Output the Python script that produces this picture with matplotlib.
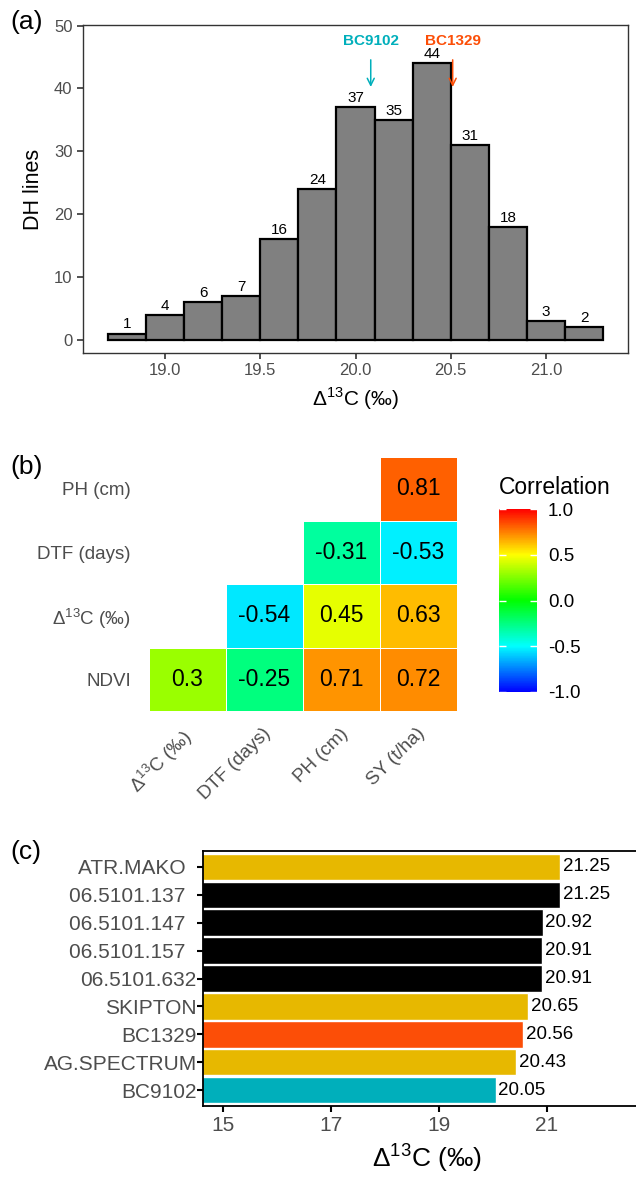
import matplotlib
matplotlib.use('Agg')
import matplotlib.pyplot as plt
import numpy as np
from matplotlib.colors import LinearSegmentedColormap, Normalize
from matplotlib.cm import ScalarMappable
from matplotlib.transforms import ScaledTranslation

plt.rcParams['font.family'] = ['Liberation Sans', 'DejaVu Sans']
plt.rcParams['mathtext.fontset'] = 'custom'
plt.rcParams['mathtext.rm'] = 'Liberation Sans'

D13C = 'Δ$^{\\mathregular{13}}$C (‰)'

# (a) distribution of carbon isotope discrimination among DH lines
bin_edges = [18.7, 18.9, 19.1, 19.3, 19.5, 19.7, 19.9, 20.1, 20.3, 20.5, 20.7, 20.9, 21.1, 21.3]
bin_counts = [1, 4, 6, 7, 16, 24, 37, 35, 44, 31, 18, 3, 2]
parent_names = ['BC9102', 'BC1329']
parent_pos = [20.08, 20.51]
parent_colors = ['#00AFBB', '#FC4E07']

# (b) trait correlations, rows bottom to top
traits_x = [D13C, 'DTF (days)', 'PH (cm)', 'SY (t/ha)']
traits_y = ['NDVI', D13C, 'DTF (days)', 'PH (cm)']
corr_vals = [[0.3, -0.25, 0.71, 0.72],
             [np.nan, -0.54, 0.45, 0.63],
             [np.nan, np.nan, -0.31, -0.53],
             [np.nan, np.nan, np.nan, 0.81]]

# (c) top lines and checks
line_names = ['ATR.MAKO  ', '06.5101.137  ', '06.5101.147  ', '06.5101.157  ',
              '06.5101.632', 'SKIPTON', 'BC1329', 'AG.SPECTRUM', 'BC9102']
line_d13c = [21.25, 21.25, 20.92, 20.91, 20.91, 20.65, 20.56, 20.43, 20.05]
line_group = ['check', 'dh', 'dh', 'dh', 'dh', 'check', 'BC1329', 'check', 'BC9102']
group_colors = {'check': '#E7B800', 'dh': '#000000', 'BC1329': '#FC4E07', 'BC9102': '#00AFBB'}

W, H = 636, 1177
fig = plt.figure(figsize=(W / 100, H / 100), dpi=100)


def box(l, t, r, b):
    return [l / W, 1 - b / H, (r - l) / W, (b - t) / H]


# ---- panel a ----
ax = fig.add_axes(box(83, 25, 628, 353))
ax.bar(bin_edges[:-1], bin_counts, width=np.diff(bin_edges), align='edge',
       color='#808080', edgecolor='black', linewidth=1.6, zorder=2)
for x0, x1, c in zip(bin_edges[:-1], bin_edges[1:], bin_counts):
    ax.annotate(str(c), ((x0 + x1) / 2, c), xytext=(0, 1.5), textcoords='offset points',
                ha='center', va='bottom', fontsize=11)
for name, xp, col in zip(parent_names, parent_pos, parent_colors):
    ax.annotate('', xy=(xp, 39.8), xytext=(xp, 45),
                arrowprops=dict(arrowstyle='->,head_length=0.5,head_width=0.25', color=col, lw=1.1))
    ax.text(xp, 47.6, name, color=col, fontsize=11, fontweight='bold', ha='center', va='center')
ax.set_xlim(18.57, 21.43)
ax.set_ylim(-2.1, 50.1)
ax.set_xticks([19.0, 19.5, 20.0, 20.5, 21.0])
ax.set_xticklabels(['19.0', '19.5', '20.0', '20.5', '21.0'])
ax.set_yticks(range(0, 51, 10))
for s in ax.spines.values():
    s.set_color('#333333')
    s.set_linewidth(1.0)
ax.tick_params(colors='#333333', labelcolor='#4D4D4D', labelsize=12, length=4, width=1.2)
ax.set_xlabel(D13C, fontsize=15, labelpad=5)
ax.set_ylabel('DH lines', fontsize=15.5, labelpad=7)
fig.text(10 / W, 1 - 22 / H, '(a)', fontsize=19, va='center')

# ---- panel b ----
cmap = LinearSegmentedColormap.from_list(
    'corr', ['#0000FF', '#00FFFF', '#00FF00', '#FFFF00', '#FF0000'])
norm = Normalize(-1, 1)
axb = fig.add_axes(box(149, 457, 457, 711))
cm = np.ma.masked_invalid(np.array(corr_vals))
axb.pcolormesh(np.arange(5), np.arange(5), cm, cmap=cmap, norm=norm,
               edgecolors='white', linewidth=0.7)
for i in range(4):
    for j in range(4):
        v = corr_vals[i][j]
        if not np.isnan(v):
            axb.text(j + 0.5, i + 0.5, '{:g}'.format(v), ha='center', va='center', fontsize=16.5)
axb.set_xlim(0, 4)
axb.set_ylim(0, 4)
axb.set_xticks(np.arange(4) + 0.5)
axb.set_xticklabels(traits_x, rotation=45, ha='right')
axb.set_yticks(np.arange(4) + 0.5)
axb.set_yticklabels(traits_y)
axb.tick_params(length=0, labelsize=13.5, labelcolor='#4D4D4D')
axb.tick_params(axis='y', pad=13)
axb.tick_params(axis='x', pad=10)
# nudge the slanted labels to the right of the column centres
shift = ScaledTranslation(10 / 100, 0, fig.dpi_scale_trans)
for lab in axb.get_xticklabels():
    lab.set_transform(lab.get_transform() + shift)
for s in axb.spines.values():
    s.set_visible(False)
fig.text(10 / W, 1 - 467 / H, '(b)', fontsize=19, va='center')

cax = fig.add_axes(box(499, 509, 537, 692))
cb = fig.colorbar(ScalarMappable(norm=norm, cmap=cmap), cax=cax, ticks=[-1, -0.5, 0, 0.5, 1])
cb.outline.set_visible(False)
cb.ax.set_yticklabels(['-1.0', '-0.5', '0.0', '0.5', '1.0'])
cax.yaxis.set_ticks_position('both')
cax.tick_params(direction='in', color='white', length=5, width=1, labelsize=13.5,
                labelleft=False, labelright=True, pad=8)
fig.text(499 / W, 1 - 488 / H, 'Correlation', fontsize=16.5, va='center')

# ---- panel c ----
axc = fig.add_axes(box(203, 851, 650, 1106))
ypos = np.arange(len(line_names))
axc.barh(ypos, line_d13c, height=0.95, left=0,
         color=[group_colors[g] for g in line_group], edgecolor='white', linewidth=1.0)
for y, v in zip(ypos, line_d13c):
    axc.annotate('{:.2f}'.format(v), (v, y), xytext=(2, 0), textcoords='offset points',
                 ha='left', va='center', fontsize=13.5)
axc.set_xlim(14.63, 22.91)
axc.set_ylim(len(line_names) - 0.43, -0.57)
axc.set_xticks([15, 17, 19, 21])
axc.set_yticks(ypos)
axc.set_yticklabels(line_names)
axc.spines['right'].set_visible(False)
for s in ['left', 'top', 'bottom']:
    axc.spines[s].set_linewidth(1.3)
axc.tick_params(labelsize=15, labelcolor='#4D4D4D', length=4, width=1.5)
axc.tick_params(axis='y', pad=0.5)
axc.set_xlabel(D13C, fontsize=19, labelpad=4)
fig.text(10 / W, 1 - 852 / H, '(c)', fontsize=19, va='center')

fig.savefig('out.png', dpi=100)
